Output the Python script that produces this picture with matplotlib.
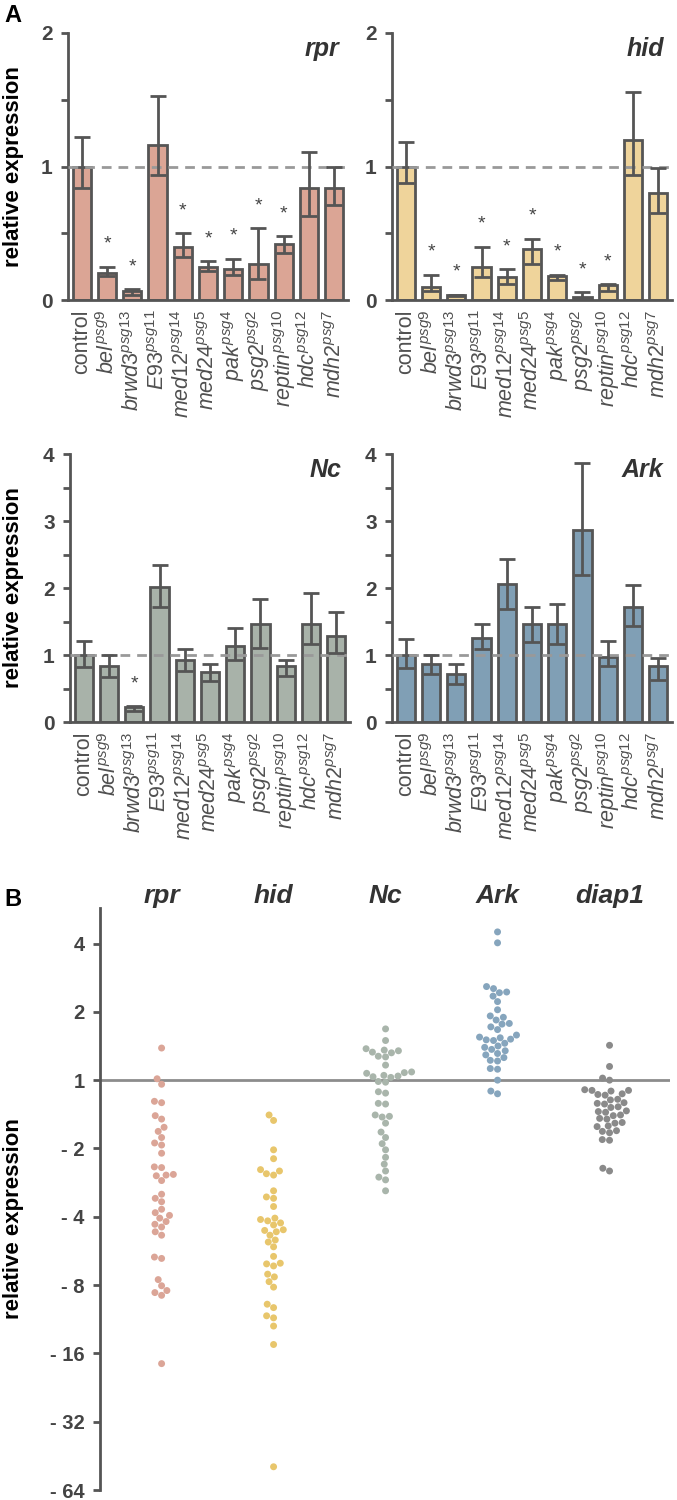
import numpy as np
import matplotlib
matplotlib.use('Agg')
import matplotlib.pyplot as plt
import seaborn as sns

plt.rcParams['font.family'] = ['Liberation Sans', 'DejaVu Sans']
plt.rcParams['mathtext.fontset'] = 'custom'
plt.rcParams['mathtext.it'] = 'Liberation Sans:italic'
plt.rcParams['mathtext.rm'] = 'Liberation Sans'

# ---- panel A data ----
genes = ['bel', 'brwd3', 'E93', 'med12', 'med24', 'pak', 'psg2', 'reptin', 'hdc', 'mdh2']
alleles = ['psg9', 'psg13', 'psg11', 'psg14', 'psg5', 'psg4', 'psg2', 'psg10', 'psg12', 'psg7']

rpr_mean = [1.00, 0.20, 0.07, 1.16, 0.40, 0.25, 0.23, 0.27, 0.42, 0.84, 0.84]
rpr_lo   = [0.84, 0.18, 0.04, 0.94, 0.32, 0.22, 0.19, 0.155, 0.35, 0.63, 0.71]
rpr_hi   = [1.22, 0.25, 0.08, 1.53, 0.50, 0.29, 0.31, 0.54, 0.48, 1.11, 1.00]
rpr_sig  = [0, 1, 1, 0, 1, 1, 1, 1, 1, 0, 0]

hid_mean = [1.00, 0.10, 0.04, 0.25, 0.17, 0.38, 0.18, 0.02, 0.11, 1.20, 0.80]
hid_lo   = [0.88, 0.07, 0.03, 0.17, 0.12, 0.27, 0.15, 0.01, 0.07, 0.94, 0.65]
hid_hi   = [1.18, 0.19, 0.04, 0.40, 0.23, 0.46, 0.19, 0.06, 0.12, 1.56, 0.99]
hid_sig  = [0, 1, 1, 1, 1, 1, 1, 1, 1, 0, 0]

nc_mean = [1.00, 0.83, 0.23, 2.01, 0.92, 0.75, 1.13, 1.46, 0.83, 1.46, 1.29]
nc_lo   = [0.82, 0.67, 0.16, 1.71, 0.76, 0.61, 0.93, 1.11, 0.68, 1.17, 1.03]
nc_hi   = [1.21, 1.00, 0.24, 2.35, 1.09, 0.87, 1.41, 1.84, 0.92, 1.93, 1.64]
nc_sig  = [0, 0, 1, 0, 0, 0, 0, 0, 0, 0, 0]

ark_mean = [1.00, 0.87, 0.71, 1.25, 2.06, 1.46, 1.46, 2.86, 0.97, 1.72, 0.83]
ark_lo   = [0.81, 0.71, 0.56, 1.09, 1.69, 1.19, 1.16, 2.19, 0.83, 1.43, 0.62]
ark_hi   = [1.24, 1.00, 0.87, 1.46, 2.43, 1.71, 1.76, 3.87, 1.21, 2.05, 0.96]
ark_sig  = [0] * 11

# ---- panel B data (log2 fold change) ----
b_rpr = [0.47, 0.02, -0.06, -0.31, -0.33, -0.52, -0.57, -0.69, -0.75, -0.84, -0.92, -0.95,
         -1.07, -1.27, -1.28, -1.38, -1.39, -1.40, -1.47, -1.67, -1.73, -1.78, -1.89, -1.94,
         -1.98, -2.02, -2.07, -2.11, -2.15, -2.22, -2.27, -2.59, -2.61, -2.92, -3.01, -3.08,
         -3.11, -3.15, -4.15]
b_hid = [-0.51, -0.59, -1.02, -1.15, -1.31, -1.33, -1.37, -1.39, -1.62, -1.71, -1.73, -1.85,
         -2.02, -2.04, -2.06, -2.09, -2.12, -2.19, -2.20, -2.22, -2.27, -2.34, -2.37, -2.44,
         -2.58, -2.68, -2.69, -2.72, -2.84, -2.88, -2.95, -3.03, -3.28, -3.33, -3.45, -3.48,
         -3.60, -3.87, -5.66]
b_nc = [0.75, 0.58, 0.46, 0.44, 0.43, 0.41, 0.40, 0.35, 0.34, 0.22, 0.12, 0.11, 0.10, 0.07,
        0.06, 0.05, 0.04, -0.02, -0.03, -0.17, -0.19, -0.34, -0.35, -0.51, -0.53, -0.54,
        -0.63, -0.76, -0.84, -0.93, -1.02, -1.13, -1.23, -1.33, -1.42, -1.46, -1.62]
b_ark = [2.17, 2.01, 1.37, 1.34, 1.29, 1.28, 1.23, 1.15, 1.03, 0.94, 0.92, 0.88, 0.83, 0.82,
         0.78, 0.74, 0.66, 0.63, 0.62, 0.60, 0.59, 0.58, 0.54, 0.50, 0.48, 0.45, 0.43, 0.39,
         0.37, 0.33, 0.29, 0.28, 0.17, 0.16, 0.00, -0.16, -0.20]
b_diap1 = [0.51, 0.20, 0.03, 0.00, -0.14, -0.15, -0.15, -0.16, -0.20, -0.21, -0.22, -0.28,
           -0.29, -0.33, -0.34, -0.35, -0.39, -0.40, -0.45, -0.46, -0.47, -0.51, -0.52,
           -0.56, -0.57, -0.62, -0.63, -0.67, -0.68, -0.74, -0.75, -0.77, -0.87, -0.88,
           -1.29, -1.33]
b_names = ['rpr', 'hid', 'Nc', 'Ark', 'diap1']
b_ticks = [2, 1, 0, -1, -2, -3, -4, -5, -6]
b_ticklabels = ['4', '2', '1', '- 2', '- 4', '- 8', '- 16', '- 32', '- 64']

edge = '#555555'
txt = '#444444'

xlabels = ['control'] + [r'$\mathit{%s}^{\mathit{%s}}$' % (g, a) for g, a in zip(genes, alleles)]

fig = plt.figure(figsize=(6.77, 15), dpi=100)

def bar_panel(rect, name, mean, lo, hi, sig, color, ymax, ylabel, labx=None):
    ax = fig.add_axes(rect)
    x = np.arange(len(mean))
    mean = np.array(mean); lo = np.array(lo); hi = np.array(hi)
    ax.bar(x, mean, width=0.72, color=color, edgecolor=edge, linewidth=2, zorder=2)
    ax.axhline(1, color='#999999', lw=2, ls=(0, (3.5, 2.5)), zorder=3)
    ax.errorbar(x, mean, yerr=[mean - lo, hi - mean], fmt='none', ecolor=edge,
                elinewidth=2, capsize=6, capthick=2, zorder=4)
    for xi, h, s in zip(x, hi, sig):
        if s:
            ax.annotate('*', (xi, h), xytext=(0, 10), textcoords='offset points',
                        ha='center', va='bottom', fontsize=14, color=txt)
    ax.set_xlim(-0.55, 10.55)
    ax.set_ylim(0, ymax)
    ax.set_yticks(np.arange(0, ymax + 0.1, 1))
    ax.set_yticks(np.arange(0.5, ymax, 1), minor=True)
    ax.set_yticklabels([str(v) for v in range(ymax + 1)], fontsize=15,
                       fontweight='bold', color=txt)
    ax.tick_params(axis='y', which='both', direction='out', length=5, width=2, color=edge, pad=6)
    ax.set_xticks(x)
    ax.set_xticklabels(xlabels, rotation=90, fontsize=15.5, color='#505050')
    ax.tick_params(axis='x', length=0, pad=7)
    for s in ['top', 'right']:
        ax.spines[s].set_visible(False)
    for s in ['left', 'bottom']:
        ax.spines[s].set_color(edge)
        ax.spines[s].set_linewidth(2)
    ax.text(0.97, 0.985, name, transform=ax.transAxes, ha='right', va='top',
            fontsize=18, fontweight='bold', style='italic', color='#333333')
    if ylabel:
        ax.set_ylabel('relative expression', fontsize=16, fontweight='bold', color='black')
        ax.yaxis.set_label_coords(labx, 0.5)
    return ax

W = 280 / 677
bar_panel([68 / 677, 0.8, W, 267 / 1500], 'rpr', rpr_mean, rpr_lo, rpr_hi, rpr_sig,
          '#dba595', 2, True, (24 - 68) / 280)
bar_panel([392 / 677, 0.8, W, 267 / 1500], 'hid', hid_mean, hid_lo, hid_hi, hid_sig,
          '#efd49b', 2, False)
bar_panel([70 / 677, 1 - 722 / 1500, W, 268 / 1500], 'Nc', nc_mean, nc_lo, nc_hi, nc_sig,
          '#a8b2a9', 4, True, (24 - 70) / 280)
bar_panel([392 / 677, 1 - 722 / 1500, W, 268 / 1500], 'Ark', ark_mean, ark_lo, ark_hi, ark_sig,
          '#809fb5', 4, False)

fig.text(4 / 677, 1 - 15 / 1500, 'A', fontsize=17, fontweight='bold', va='center')

# ---- panel B ----
axB = fig.add_axes([100 / 677, 10 / 1500, 570 / 677, 582 / 1500])
groups = [b_rpr, b_hid, b_nc, b_ark, b_diap1]
gx, gy = [], []
for n, g in zip(b_names, groups):
    gx += [n] * len(g)
    gy += g
palette = {'rpr': '#dba597', 'hid': '#e8c66c', 'Nc': '#a9b5ab', 'Ark': '#86a5bd', 'diap1': '#8a8a8a'}
axB.set_ylim(-6, 2.52)
axB.axhline(0, color='#8c8c8c', lw=2, zorder=1)
sns.swarmplot(x=gx, y=gy, hue=gx, order=b_names, palette=palette, size=5,
              linewidth=0, legend=False, ax=axB, zorder=3)
axB.set_xlim(-0.55, 4.54)
axB.set_ylim(-6, 2.52)
axB.set_xticks([])
axB.set_yticks(b_ticks)
axB.set_yticklabels(b_ticklabels, fontsize=14.5, fontweight='bold', color=txt)
axB.tick_params(axis='y', direction='out', length=5, width=2, color=edge, pad=6)
for s in ['top', 'right', 'bottom']:
    axB.spines[s].set_visible(False)
axB.spines['left'].set_color(edge)
axB.spines['left'].set_linewidth(2)
axB.set_ylabel('relative expression', fontsize=16, fontweight='bold', color='black')
axB.yaxis.set_label_coords((24 - 100) / 570, 0.467)
axB.set_xlabel('')
for i, n in enumerate(b_names):
    axB.text(i, 1.0, n, transform=axB.get_xaxis_transform(), ha='center', va='bottom',
             fontsize=19, fontweight='bold', style='italic', color='#333333')

fig.text(4 / 677, 1 - 900 / 1500, 'B', fontsize=17, fontweight='bold', va='center')

fig.savefig('out.png', dpi=100)
